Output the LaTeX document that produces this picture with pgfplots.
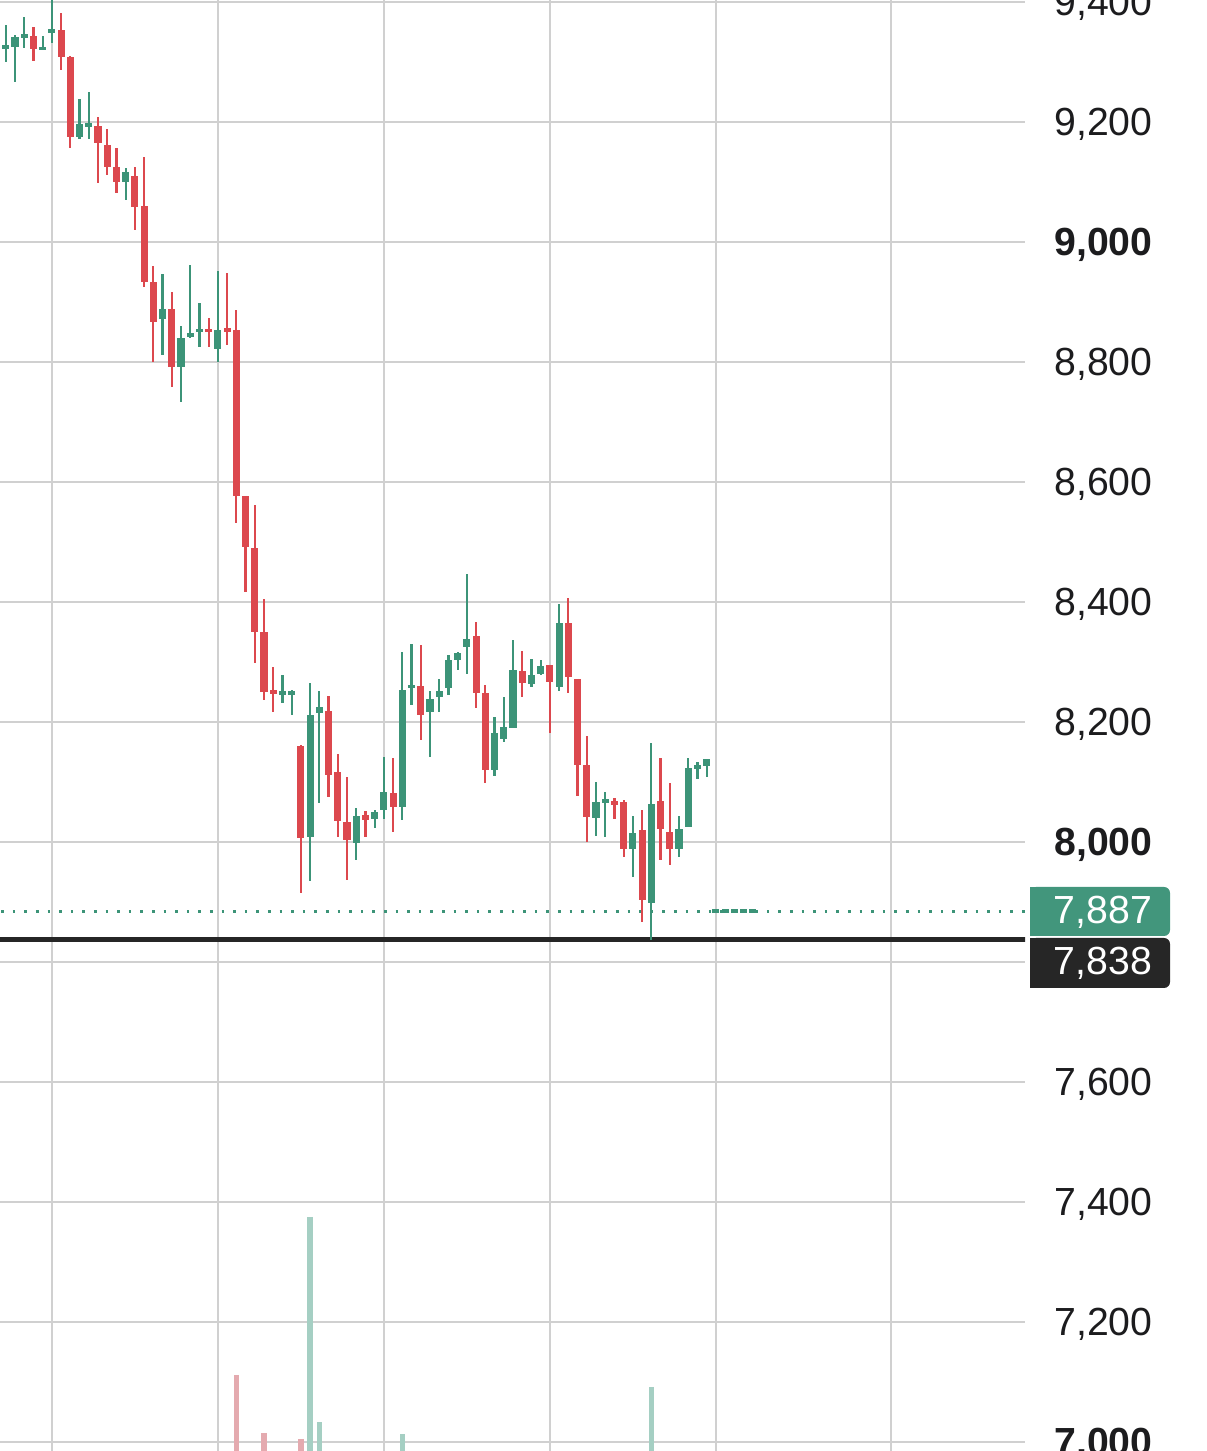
\documentclass[border=0pt]{standalone}
\usepackage{fontspec}
\setmainfont{Liberation Sans}
\usepackage{pgfplots}
\pgfplotsset{compat=1.18}
\usepackage{pgfplotstable}
\definecolor{cgreen}{RGB}{60,148,120}
\definecolor{cred}{RGB}{220,72,78}
\definecolor{vgreen}{RGB}{165,207,195}
\definecolor{vred}{RGB}{228,170,175}
\definecolor{cgrid}{RGB}{208,208,208}
\definecolor{cblack}{RGB}{38,38,38}
\definecolor{ctext}{RGB}{28,28,30}
\definecolor{lgreen}{RGB}{66,150,124}

\pgfplotstableread{
i o h l c
0 9320 9337 9273 9328
1 9323 9362 9300 9327
2 9325 9345 9267 9342
3 9342 9375 9323 9345
5 9322 9343 9320 9323
6 9350 9410 9332 9353
9 9175 9238 9172 9197
10 9192 9250 9172 9198
14 9100 9123 9070 9117
18 8872 8947 8812 8888
20 8792 8860 8733 8840
21 8842 8962 8840 8848
22 8850 8898 8825 8855
24 8822 8952 8800 8853
31 8247 8278 8232 8250
32 8247 8253 8212 8250
34 8008 8265 7935 8212
35 8215 8252 8065 8225
39 7998 8057 7970 8043
41 8038 8053 8023 8050
42 8053 8142 8038 8083
44 8058 8317 8037 8253
45 8257 8330 8228 8262
47 8217 8252 8142 8238
48 8242 8272 8217 8252
49 8257 8312 8245 8303
50 8303 8317 8287 8315
51 8325 8447 8280 8338
54 8120 8208 8110 8182
55 8172 8242 8167 8192
56 8190 8337 8190 8287
58 8263 8305 8258 8278
59 8280 8303 8278 8293
61 8258 8397 8252 8365
65 8040 8100 8010 8067
66 8067 8083 8008 8070
69 7988 8043 7942 8015
71 7898 8165 7837 8063
74 7988 8043 7975 8022
75 8025 8140 8025 8123
76 8123 8133 8105 8127
77 8127 8138 8108 8138
78 7885 7885 7885 7885
79 7885 7885 7885 7885
80 7885 7885 7885 7885
81 7885 7885 7885 7885
82 7885 7885 7885 7885
}\greentab

\pgfplotstableread{
i o h l c
4 9343 9358 9302 9322
7 9353 9382 9287 9308
8 9308 9310 9157 9175
11 9193 9208 9098 9165
12 9162 9188 9112 9125
13 9125 9157 9082 9100
15 9110 9125 9020 9058
16 9060 9142 8925 8933
17 8933 8960 8800 8867
19 8888 8917 8758 8792
23 8855 8873 8825 8850
25 8857 8948 8828 8850
26 8853 8887 8532 8577
27 8577 8577 8417 8492
28 8490 8562 8298 8350
29 8350 8405 8237 8250
30 8253 8292 8217 8247
33 8160 8162 7915 8007
36 8218 8243 8075 8112
37 8117 8147 8008 8035
38 8033 8108 7937 8003
40 8045 8052 8008 8037
43 8082 8140 8017 8058
46 8260 8328 8170 8212
52 8343 8367 8223 8248
53 8248 8262 8098 8120
57 8285 8318 8242 8265
60 8295 8295 8182 8267
62 8365 8407 8248 8275
63 8272 8272 8077 8128
64 8128 8177 8000 8042
67 8068 8073 8038 8062
68 8067 8070 7975 7988
70 8020 8053 7867 7903
72 8068 8140 7970 8022
73 8017 8098 7962 7988
}\redtab

\pgfplotstableread{
i v
34 7375
35 7033
44 7013
71 7092
}\gvol

\pgfplotstableread{
i v
26 7112
29 7015
33 7005
}\rvol

\begin{document}
\begin{tikzpicture}
\begin{axis}[
  at={(0,0)}, anchor=south west,
  scale only axis, width=512.5pt, height=725.5pt,
  xmin=0.3735, xmax=111.52, ymin=6985, ymax=9403.3,
  axis line style={draw=none},
  xtick={6,24,42,60,78,97}, xticklabels={},
  ytick={7000,7200,7400,7600,7800,8000,8200,8400,8600,8800,9000,9200,9400},
  yticklabels={{\bfseries 7,000},{7,200},{7,400},{7,600},{},{\bfseries 8,000},{8,200},{8,400},{8,600},{8,800},{\bfseries 9,000},{9,200},{9,400}},
  yticklabel pos=right,
  yticklabel style={anchor=base west, inner sep=0pt, xshift=14.5pt, yshift=-7pt, font=\fontsize{19.6}{22}\selectfont, text=ctext},
  major tick length=0pt,
  grid=major,
  major grid style={line width=1.15pt, draw=cgrid},
  clip=true,
]
% volume
\addplot[draw=none, mark=none, forget plot,
  error bars/.cd, y dir=minus, y explicit, error mark=none,
  error bar style={draw=vgreen, line width=2.8pt}]
  table[x=i, y=v, y error minus expr=\thisrow{v}-6900] {\gvol};
\addplot[draw=none, mark=none, forget plot,
  error bars/.cd, y dir=minus, y explicit, error mark=none,
  error bar style={draw=vred, line width=2.8pt}]
  table[x=i, y=v, y error minus expr=\thisrow{v}-6900] {\rvol};
% price lines
\addplot[cgreen, line width=1.3pt, dash pattern=on 1.3pt off 4.5pt, forget plot]
  coordinates {(0.5,7884) (111.5,7884)};
\addplot[cblack, line width=2.6pt, forget plot]
  coordinates {(0.3,7837) (111.6,7837)};
% wicks
\addplot[draw=none, mark=none, forget plot,
  error bars/.cd, y dir=both, y explicit, error mark=none,
  error bar style={draw=cgreen, line width=1.1pt}]
  table[x=i, y=o, y error plus expr=\thisrow{h}-\thisrow{o}, y error minus expr=\thisrow{o}-\thisrow{l}] {\greentab};
\addplot[draw=none, mark=none, forget plot,
  error bars/.cd, y dir=both, y explicit, error mark=none,
  error bar style={draw=cred, line width=1.1pt}]
  table[x=i, y=o, y error plus expr=\thisrow{h}-\thisrow{o}, y error minus expr=\thisrow{o}-\thisrow{l}] {\redtab};
% bodies
\addplot[draw=none, mark=none, forget plot,
  error bars/.cd, y dir=both, y explicit, error mark=none,
  error bar style={draw=cgreen, line width=3.6pt}]
  table[x=i, y expr=(\thisrow{o}+\thisrow{c})/2, y error expr={max(abs(\thisrow{o}-\thisrow{c})/2,2.7)}] {\greentab};
\addplot[draw=none, mark=none, forget plot,
  error bars/.cd, y dir=both, y explicit, error mark=none,
  error bar style={draw=cred, line width=3.6pt}]
  table[x=i, y expr=(\thisrow{o}+\thisrow{c})/2, y error expr={max(abs(\thisrow{o}-\thisrow{c})/2,2.7)}] {\redtab};
\end{axis}
% price labels
\fill[lgreen, rounded corners=3pt] (515pt,257.5pt) rectangle (585pt,282pt);
\fill[lgreen] (515pt,257.5pt) rectangle (521pt,282pt);
\node[anchor=base, inner sep=0pt, text=white, font=\fontsize{19.6}{22}\selectfont] at (551.5pt,263.5pt) {7,887};
\fill[cblack, rounded corners=3pt] (515pt,231.5pt) rectangle (585pt,256.5pt);
\fill[cblack] (515pt,231.5pt) rectangle (521pt,256.5pt);
\node[anchor=base, inner sep=0pt, text=white, font=\fontsize{19.6}{22}\selectfont] at (551.5pt,238pt) {7,838};
\pgfresetboundingbox
\useasboundingbox (0,0) rectangle (603pt,725.5pt);
\end{tikzpicture}
\end{document}
